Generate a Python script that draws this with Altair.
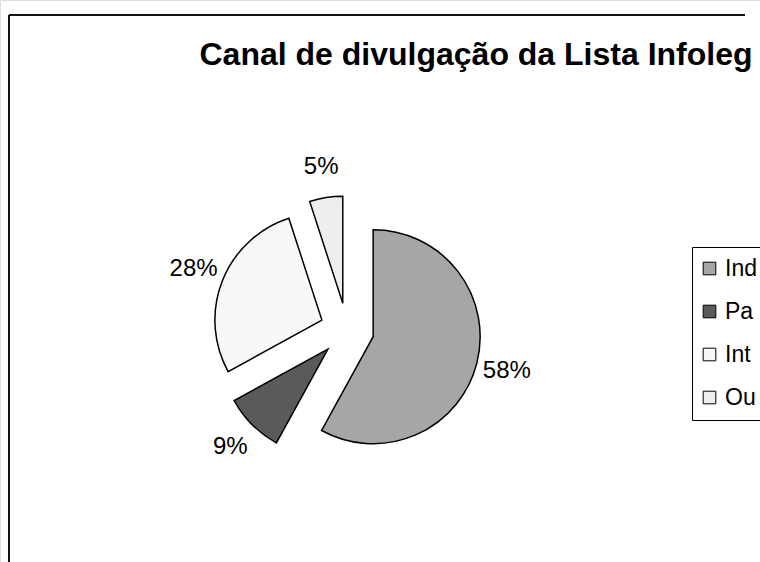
import altair as alt
import pandas as pd

categories = ["Ind", "Pa", "Int", "Ou"]
values = [58, 9, 28, 5]
colors = ["#a6a6a6", "#5a5a5a", "#f8f8f8", "#eeeeee"]

df = pd.DataFrame({"cat": categories, "value": values})

CX, CY, R, EXPLODE, LABEL_R = 347, 330, 107, 27, 138

base = (
    alt.Chart(df)
    .transform_window(cum="sum(value)", frame=[None, 0])
    .transform_joinaggregate(total="sum(value)")
    .transform_calculate(
        a0="2*PI*(datum.cum - datum.value)/datum.total",
        a1="2*PI*datum.cum/datum.total",
    )
    .transform_calculate(mid="(datum.a0 + datum.a1)/2")
    .transform_calculate(
        cx=f"{CX} + {EXPLODE}*sin(datum.mid)",
        cy=f"{CY} - {EXPLODE}*cos(datum.mid)",
    )
    .transform_calculate(
        lx=f"datum.cx + {LABEL_R}*sin(datum.mid)",
        ly=f"datum.cy - {LABEL_R}*cos(datum.mid)",
        label="datum.value + '%'",
    )
)

pie = base.mark_arc(radius=R, stroke="#000000", strokeWidth=1.5).encode(
    x=alt.X("cx:Q", scale=None),
    y=alt.Y("cy:Q", scale=None),
    theta=alt.Theta("a0:Q", scale=None),
    theta2="a1:Q",
    color=alt.Color(
        "cat:N",
        scale=alt.Scale(domain=categories, range=colors),
        sort=categories,
        legend=alt.Legend(
            title=None,
            orient="none",
            legendX=692,
            legendY=247,
            padding=10,
            strokeColor="#000000",
            symbolType="square",
            symbolSize=160,
            symbolOffset=-4,
            symbolStrokeColor="#000000",
            symbolStrokeWidth=1,
            labelFont="Liberation Sans",
            labelFontSize=23,
            labelColor="#000000",
            labelOffset=4,
            rowPadding=19,
            labelLimit=0,
        ),
    ),
)

labels = base.mark_text(
    font="Liberation Sans", fontSize=24, color="#000000", baseline="middle", align="center"
).encode(
    x=alt.X("lx:Q", scale=None),
    y=alt.Y("ly:Q", scale=None),
    text="label:N",
)

frame_top = alt.Chart(df).mark_rule(color="#111111", strokeWidth=2).encode(
    x=alt.value(9), x2=alt.value(745), y=alt.value(15)
)
frame_left = alt.Chart(df).mark_rule(color="#111111", strokeWidth=2).encode(
    x=alt.value(9), y=alt.value(15), y2=alt.value(562)
)

chart = (
    alt.layer(frame_top, frame_left, pie, labels)
    .properties(
        width=760,
        height=562,
        autosize=alt.AutoSizeParams(type="none"),
        padding=0,
        title=alt.TitleParams(
            text="Canal de divulgação da Lista Infoleg",
            font="Liberation Sans",
            fontSize=32,
            fontWeight="bold",
            color="#000000",
            anchor="middle",
            baseline="alphabetic",
            offset=0,
            dx=96,
            dy=97,
        ),
    )
    .configure_view(stroke=None)
    .configure(background="#ffffff")
)

chart.save("out.html", embed_options={"renderer": "svg", "actions": False})
